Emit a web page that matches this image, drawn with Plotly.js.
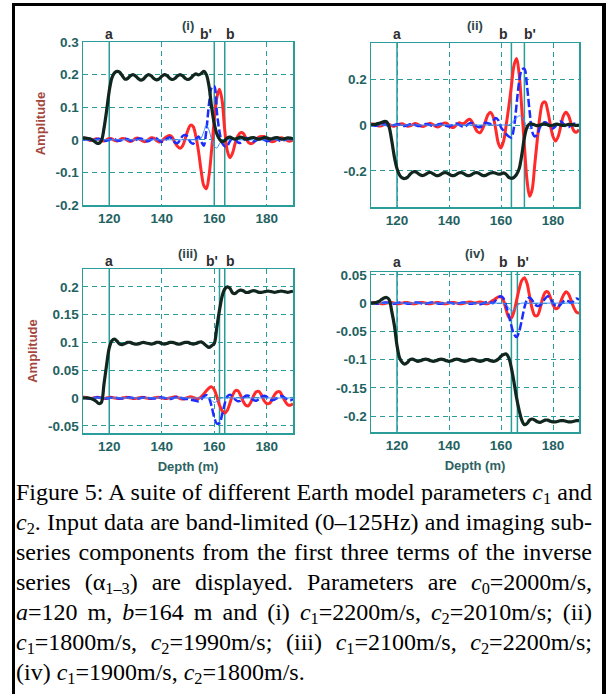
<!DOCTYPE html>
<html>
<head>
<meta charset="utf-8">
<script src="https://cdn.plot.ly/plotly-3.0.1.min.js"></script>
<style>
  html, body { margin: 0; padding: 0; background: #fff; }
  #wrap { position: relative; width: 608px; height: 694px; overflow: hidden; }
  #chart { position: absolute; left: 0; top: 0; width: 608px; height: 694px; }
  #frame { position: absolute; left: 12px; top: 3px; width: 594px; height: 760px;
           box-sizing: border-box; border-left: 3px solid #000; border-top: 3px solid #000;
           border-right: 4px solid #000; pointer-events: none; }
  #caption { position: absolute; left: 16px; top: 477px; width: 576px;
             font-family: "Liberation Serif", "Times New Roman", Times, serif; font-size: 24px;
             line-height: 30px; color: #000; }
  #caption .ln { white-space: nowrap; text-align: justify; text-align-last: justify; height: 30px; overflow: visible; }
  #caption .ln.last { text-align: left; text-align-last: left; }
  #caption sub { font-size: 0.68em; line-height: 0; vertical-align: baseline; position: relative; top: 0.22em; }
</style>
</head>
<body>
<div id="wrap">
  <div id="chart"></div>
  <div id="frame"></div>
  <div id="caption">
    <div class="ln">Figure 5: A suite of different Earth model parameters <i>c</i><sub>1</sub> and</div>
    <div class="ln"><i>c</i><sub>2</sub>. Input data are band-limited (0–125Hz) and imaging sub-</div>
    <div class="ln">series components from the first three terms of the inverse</div>
    <div class="ln">series (α<sub>1–3</sub>) are displayed. Parameters are <i>c</i><sub>0</sub>=2000m/s,</div>
    <div class="ln"><i>a</i>=120 m, <i>b</i>=164 m and (i) <i>c</i><sub>1</sub>=2200m/s, <i>c</i><sub>2</sub>=2010m/s; (ii)</div>
    <div class="ln"><i>c</i><sub>1</sub>=1800m/s, <i>c</i><sub>2</sub>=1990m/s; (iii) <i>c</i><sub>1</sub>=2100m/s, <i>c</i><sub>2</sub>=2200m/s;</div>
    <div class="ln last">(iv) <i>c</i><sub>1</sub>=1900m/s, <i>c</i><sub>2</sub>=1800m/s.</div>
  </div>
</div>
<script>
// ---------------- data ----------------
const depth = [110,111,112,113,114,115,116,117,118,119,
               120,121,122,123,124,125,126,127,128,129,
               130,131,132,133,134,135,136,137,138,139,
               140,141,142,143,144,145,146,147,148,149,
               150,151,152,153,154,155,156,157,158,159,
               160,161,162,163,164,165,166,167,168,169,
               170,171,172,173,174,175,176,177,178,179,
               180,181,182,183,184,185,186,187,188,189,
               190];

const panelLabels = ["(i)", "(ii)", "(iii)", "(iv)"];
const depthTicks = [120, 140, 160, 180];
const depthTickText = ["120", "140", "160", "180"];
const ampTicksI = [-0.2, -0.1, 0, 0.1, 0.2, 0.3];
const ampTextI = ["-0.2", "-0.1", "0", "0.1", "0.2", "0.3"];
const ampTicksII = [-0.2, 0, 0.2];
const ampTextII = ["-0.2", "0", "0.2"];
const ampTicksIII = [-0.05, 0, 0.05, 0.1, 0.15, 0.2];
const ampTextIII = ["-0.05", "0", "0.05", "0.1", "0.15", "0.2"];
const ampTicksIV = [-0.2, -0.15, -0.1, -0.05, 0, 0.05];
const ampTextIV = ["-0.2", "-0.15", "-0.1", "-0.05", "0", "0.05"];

const aDepth = [120, 120, 120, 120];
const bDepth = [164, 164, 164, 164];
const bPrimeDepth = [160, 169, 162, 166.3];

// Panel (i)
const blackI = [0.005,0.005,0.004,0.002,-0.003,-0.009,-0.011,-0.003,0.035,0.090,
  0.150,0.190,0.205,0.210,0.207,0.196,0.186,0.188,0.196,0.200,
  0.196,0.188,0.183,0.186,0.195,0.200,0.196,0.188,0.184,0.187,
  0.195,0.200,0.197,0.189,0.185,0.188,0.196,0.200,0.196,0.188,
  0.185,0.189,0.197,0.202,0.199,0.203,0.210,0.200,0.165,0.100,
  0.050,0.018,0.002,-0.006,-0.002,0.006,0.008,0.004,0.002,0.005,
  0.008,0.006,0.002,0.003,0.006,0.007,0.004,0.002,0.004,0.007,
  0.006,0.003,0.003,0.006,0.007,0.004,0.002,0.004,0.006,0.005,
  0.003];
const redI = [0.008,0.004,0.000,-0.002,0.000,0.003,0.002,-0.002,-0.004,0.000,
  0.004,0.003,-0.002,-0.004,0.000,0.004,0.003,-0.002,-0.005,-0.002,
  0.004,0.005,0.000,-0.005,-0.005,0.001,0.006,0.005,-0.002,-0.007,
  -0.004,0.004,0.010,0.013,0.008,-0.008,-0.020,-0.026,-0.018,0.005,
  0.030,0.045,0.040,0.010,-0.035,-0.095,-0.140,-0.150,-0.110,-0.030,
  0.060,0.130,0.155,0.120,0.030,-0.035,-0.055,-0.040,-0.010,0.012,
  0.022,0.020,0.006,-0.008,-0.012,-0.008,0.002,0.008,0.010,0.010,
  0.004,-0.003,-0.006,-0.004,0.002,0.006,0.006,0.002,-0.003,-0.004,
  -0.001];
const blueI = [0.000,0.002,0.001,-0.002,-0.002,0.001,0.003,0.001,-0.002,-0.003,
  0.000,0.003,0.002,-0.002,-0.003,0.000,0.003,0.002,-0.002,-0.004,
  -0.001,0.003,0.004,0.000,-0.004,-0.004,0.001,0.005,0.004,-0.002,
  -0.006,-0.004,0.004,0.008,0.003,-0.008,-0.010,0.000,0.012,0.015,
  0.008,-0.008,-0.012,0.002,0.010,-0.005,-0.018,0.030,0.110,0.160,
  0.165,0.085,0.025,-0.010,-0.020,-0.018,-0.004,0.006,0.002,-0.008,
  -0.009,-0.002,0.005,0.004,-0.002,-0.005,-0.002,0.003,0.004,0.000,
  -0.004,-0.003,0.002,0.004,0.001,-0.003,-0.003,0.000,0.003,0.002,
  -0.001];
const thinI = [0,0,0,0,0,0,0,0,0,0,
  0,0,0,0,0,0,0,0,0,0,
  0,0,0,0,0,0,0,0,0,0,
  0,0,0,0,0,0,0,0,0,0,
  0,0,0,0,0,0.005,0.025,0.045,0.030,0.000,
  -0.020,-0.025,-0.012,-0.003,0,0,0,0,0,0,
  0,0,0,0,0,0,0,0,0,0,
  0,0,0,0,0,0,0,0,0,0,
  0];

// Panel (ii)
const blackII = [0.000,0.002,0.004,0.007,0.011,0.015,0.014,-0.010,-0.070,-0.140,
  -0.190,-0.218,-0.230,-0.233,-0.228,-0.215,-0.205,-0.203,-0.210,-0.218,
  -0.220,-0.215,-0.208,-0.207,-0.213,-0.220,-0.220,-0.214,-0.208,-0.208,
  -0.214,-0.220,-0.220,-0.214,-0.208,-0.208,-0.214,-0.220,-0.220,-0.214,
  -0.208,-0.208,-0.214,-0.220,-0.220,-0.214,-0.209,-0.207,-0.210,-0.214,
  -0.213,-0.208,-0.215,-0.228,-0.232,-0.228,-0.215,-0.190,-0.130,-0.055,
  -0.010,0.005,0.004,0.000,-0.003,0.000,0.004,0.004,0.000,-0.003,
  -0.001,0.003,0.003,0.000,-0.002,0.000,0.003,0.002,0.000,-0.002,
  0.000];
const redII = [0.006,0.004,0.000,-0.004,-0.003,0.002,0.005,0.002,-0.003,-0.005,
  -0.001,0.004,0.005,0.000,-0.005,-0.004,0.002,0.006,0.003,-0.004,
  -0.007,-0.002,0.005,0.007,0.001,-0.007,-0.008,0.000,0.008,0.008,
  -0.002,-0.010,-0.009,0.002,0.010,0.005,0.008,0.020,0.025,0.012,
  -0.012,-0.030,-0.033,-0.015,0.015,0.045,0.055,0.035,-0.020,-0.080,
  -0.100,-0.070,0.000,0.080,0.170,0.260,0.290,0.220,0.070,-0.090,
  -0.240,-0.310,-0.280,-0.170,-0.060,0.040,0.095,0.100,0.060,0.000,
  -0.050,-0.070,-0.050,-0.005,0.040,0.055,0.040,0.005,-0.025,-0.032,
  -0.020];
const blueII = [0.000,-0.002,-0.003,0.000,0.003,0.003,0.000,-0.003,-0.003,0.000,
  0.003,0.002,-0.002,-0.004,-0.001,0.003,0.004,0.000,-0.004,-0.003,
  0.001,0.004,0.003,-0.002,-0.005,-0.002,0.003,0.005,0.002,-0.004,
  -0.006,-0.002,0.005,0.006,0.001,-0.006,-0.007,0.000,0.008,0.008,
  0.000,-0.008,-0.010,0.000,0.010,0.008,0.005,0.018,0.030,0.020,
  -0.010,-0.025,-0.040,-0.050,-0.055,-0.010,0.090,0.190,0.240,0.245,
  0.170,0.060,-0.030,-0.050,-0.040,-0.010,0.008,0.012,0.005,-0.010,
  -0.015,-0.005,0.010,0.015,0.005,-0.008,-0.010,0.000,0.006,0.003,
  -0.003];
const thinII = [0,0,0,0,0,0,0,0,0,0,
  0,0,0,0,0,0,0,0,0,0,
  0,0,0,0,0,0,0,0,0,0,
  0,0,0,0,0,0,0,0,0,0,
  0,0,0,0,0,0,0,0,0,0,
  0,0,0,0.000,0.008,0.020,0.032,0.040,0.036,0.015,
  -0.008,-0.015,-0.006,0,0,0,0,0,0,0,
  0,0,0,0,0,0,0,0,0,0,
  0];

// Panel (iii)
const blackIII = [0.000,0.000,0.000,-0.001,-0.003,-0.006,-0.010,-0.008,0.025,0.060,
  0.090,0.103,0.106,0.102,0.097,0.096,0.098,0.100,0.100,0.098,
  0.097,0.097,0.099,0.100,0.099,0.098,0.097,0.098,0.100,0.100,
  0.098,0.097,0.098,0.100,0.100,0.099,0.097,0.097,0.099,0.100,
  0.100,0.098,0.097,0.098,0.100,0.101,0.098,0.094,0.091,0.094,
  0.098,0.128,0.158,0.183,0.196,0.200,0.197,0.189,0.188,0.192,
  0.194,0.193,0.190,0.190,0.192,0.193,0.192,0.190,0.190,0.191,
  0.192,0.192,0.191,0.190,0.191,0.192,0.192,0.191,0.190,0.191,
  0.192];
const redIII = [0.002,0.001,0.000,-0.001,0.000,0.001,0.001,0.000,-0.001,0.000,
  0.001,0.001,0.000,-0.001,-0.001,0.000,0.001,0.001,0.000,-0.001,
  -0.001,0.000,0.001,0.001,0.000,-0.001,-0.001,0.000,0.001,0.001,
  0.000,-0.001,-0.001,0.000,0.001,0.002,0.001,-0.001,-0.002,-0.001,
  0.001,0.002,0.001,-0.001,-0.001,0.002,0.007,0.013,0.018,0.020,
  0.015,0.002,-0.013,-0.023,-0.027,-0.022,-0.009,0.005,0.013,0.013,
  0.005,-0.006,-0.013,-0.014,-0.007,0.004,0.011,0.012,0.005,-0.005,
  -0.010,-0.010,-0.003,0.006,0.011,0.011,0.003,-0.006,-0.012,-0.013,
  -0.010];
const blueIII = [0.000,0.000,-0.001,-0.001,0.000,0.001,0.001,0.000,-0.001,-0.001,
  0.000,0.001,0.001,0.000,-0.001,-0.001,0.000,0.001,0.001,0.000,
  -0.001,-0.001,0.000,0.001,0.001,0.000,-0.001,-0.001,0.000,0.001,
  0.001,0.000,-0.001,-0.002,-0.001,0.001,0.002,0.001,-0.001,-0.002,
  -0.002,-0.003,-0.004,-0.005,-0.006,-0.003,0.003,0.005,0.000,-0.015,
  -0.035,-0.046,-0.045,-0.030,-0.010,0.003,0.006,0.003,-0.003,-0.006,
  -0.005,0.000,0.004,0.004,0.000,-0.004,-0.005,-0.002,0.002,0.004,
  0.002,-0.002,-0.004,-0.003,0.000,0.003,0.003,0.000,-0.003,-0.004,
  -0.002];
const thinIII = [0,0,0,0,0,0,0,0,0,0,
  0,0,0,0,0,0,0,0,0,0,
  0,0,0,0,0,0,0,0,0,0,
  0,0,0,0,0,0,0,0,0,0,
  0,0,0,0,0,0,0,0,0.000,-0.004,
  -0.008,-0.006,-0.002,0.000,0,0,0,0,0,0,
  0,0,0,0,0,0,0,0,0,0,
  0,0,0,0,0,0,0,0,0,0,
  0];

// Panel (iv)
const blackIV = [0.000,0.000,0.001,0.003,0.006,0.009,0.010,0.006,-0.015,-0.040,
  -0.075,-0.097,-0.105,-0.108,-0.105,-0.100,-0.099,-0.101,-0.103,-0.102,
  -0.100,-0.099,-0.100,-0.102,-0.103,-0.102,-0.100,-0.099,-0.100,-0.102,
  -0.103,-0.102,-0.100,-0.099,-0.100,-0.102,-0.103,-0.102,-0.100,-0.099,
  -0.100,-0.102,-0.103,-0.102,-0.100,-0.100,-0.102,-0.103,-0.102,-0.099,
  -0.094,-0.091,-0.090,-0.097,-0.115,-0.140,-0.168,-0.190,-0.207,-0.215,
  -0.213,-0.207,-0.205,-0.207,-0.210,-0.211,-0.209,-0.207,-0.207,-0.209,
  -0.210,-0.210,-0.209,-0.208,-0.208,-0.209,-0.210,-0.210,-0.209,-0.208,
  -0.208];
const redIV = [0.000,0.001,0.001,0.000,-0.001,-0.001,0.000,0.001,0.001,0.000,
  -0.001,-0.001,0.000,0.001,0.001,0.000,-0.001,-0.001,0.000,0.001,
  0.001,0.000,-0.001,-0.001,0.000,0.001,0.001,0.000,-0.001,-0.001,
  0.000,0.001,0.001,0.000,-0.001,-0.001,0.000,0.001,0.002,0.001,
  0.000,0.001,0.002,0.001,-0.001,-0.001,0.002,0.005,0.008,0.011,
  0.011,0.004,-0.012,-0.025,-0.026,-0.015,0.005,0.025,0.040,0.045,
  0.035,0.012,-0.010,-0.022,-0.022,-0.010,0.008,0.019,0.020,0.010,
  -0.003,-0.010,-0.008,0.003,0.014,0.020,0.016,0.004,-0.008,-0.016,
  -0.018];
const blueIV = [0.000,0.000,-0.001,-0.001,0.000,0.001,0.001,0.000,-0.001,-0.001,
  0.000,0.001,0.001,0.000,-0.001,-0.001,0.000,0.001,0.001,0.000,
  -0.001,-0.001,0.000,0.001,0.001,0.000,-0.001,-0.001,0.000,0.001,
  0.001,0.000,-0.001,-0.001,0.000,0.001,0.001,0.000,-0.001,-0.001,
  0.000,-0.001,-0.002,-0.001,0.001,0.002,0.001,0.000,0.005,0.010,
  0.012,0.008,-0.005,-0.022,-0.040,-0.055,-0.060,-0.050,-0.030,-0.008,
  0.006,0.010,0.005,-0.002,-0.005,-0.004,0.002,0.008,0.012,0.008,
  0.000,-0.005,-0.006,-0.002,0.003,0.005,0.003,0.000,0.004,0.008,
  0.006];
const thinIV = [0,0,0,0,0,0,0,0,0,0,
  0,0,0,0,0,0,0,0,0,0,
  0,0,0,0,0,0,0,0,0,0,
  0,0,0,0,0,0,0,0,0,0,
  0,0,0,0,0,0,0,0,0,0,
  0,0,-0.003,-0.008,-0.014,-0.012,-0.006,-0.002,0,0,
  0,0,0,0,0,0,0,0,0,0,
  0,0,0,0,0,0,0,0,0,0,
  0];

// ---------------- styling / layout ----------------
const TEAL = "#2a9d9b";
const TICKCOL = "#1f6262";
const TITLECOL = "#a4473e";
const DEPTHCOL = "#2d6363";
const LABCOL = "#2e2e2e";
const BLACKC = "#10261f", REDC = "#ff2b2b", BLUEC = "#1c2cff", THINC = "#3d8dff";
const FONT = "Liberation Sans, Arial, sans-serif";
const W = 608, H = 694;

const panels = [
  {black: blackI,   red: redI,   blue: blueI,   thin: thinI,   ticks: ampTicksI,   text: ampTextI,
   px: [83, 293], py: [42, 205], range: [-0.2, 0.3], ampTitle: true, depthTitle: false, titleY: 26, labY: 34},
  {black: blackII,  red: redII,  blue: blueII,  thin: thinII,  ticks: ampTicksII,  text: ampTextII,
   px: [371, 579], py: [43, 207], range: [-0.357, 0.357], ampTitle: false, depthTitle: false, titleY: 26, labY: 34},
  {black: blackIII, red: redIII, blue: blueIII, thin: thinIII, ticks: ampTicksIII, text: ampTextIII,
   px: [83, 293], py: [269, 433], range: [-0.063, 0.232], ampTitle: true, depthTitle: true, titleY: 253, labY: 261},
  {black: blackIV,  red: redIV,  blue: blueIV,  thin: thinIV,  ticks: ampTicksIV,  text: ampTextIV,
   px: [371, 579], py: [272, 432], range: [-0.228, 0.055], ampTitle: false, depthTitle: true, titleY: 253, labY: 262}
];

const traces = [];
const layout = {
  width: W, height: H, autosize: false,
  margin: {l: 0, r: 0, t: 0, b: 0},
  paper_bgcolor: "#ffffff", plot_bgcolor: "#ffffff",
  showlegend: false,
  font: {family: FONT},
  annotations: [], shapes: []
};

panels.forEach((p, i) => {
  const n = i + 1;
  const xa = n === 1 ? "x" : "x" + n;
  const ya = n === 1 ? "y" : "y" + n;
  const xk = n === 1 ? "xaxis" : "xaxis" + n;
  const yk = n === 1 ? "yaxis" : "yaxis" + n;
  const common = {type: "scatter", mode: "lines", x: depth, xaxis: xa, yaxis: ya, hoverinfo: "skip"};
  traces.push(Object.assign({}, common, {y: p.red,  line: {color: REDC,  width: 3, shape: "spline", smoothing: 0.9}}));
  traces.push(Object.assign({}, common, {y: p.blue, line: {color: BLUEC, width: 2.5, shape: "spline", smoothing: 0.9, dash: "8px,3px"}}));
  traces.push(Object.assign({}, common, {y: p.thin, line: {color: THINC, width: 1, shape: "spline", smoothing: 0.9}}));
  traces.push(Object.assign({}, common, {y: p.black, line: {color: BLACKC, width: 3.2, shape: "spline", smoothing: 0.9}}));

  layout[xk] = {
    domain: [p.px[0] / W, p.px[1] / W], range: [110, 190], anchor: ya,
    tickvals: depthTicks, ticktext: depthTickText, ticks: "",
    tickfont: {size: 13.5, color: TICKCOL, weight: "bold", family: FONT},
    showgrid: true, gridcolor: TEAL, gridwidth: 1, griddash: "5px,4px",
    zeroline: false, showline: true, linecolor: TEAL, linewidth: 1.5, mirror: true,
    title: p.depthTitle ? {text: "Depth (m)", standoff: 9,
      font: {size: 13, color: DEPTHCOL, weight: "bold", family: FONT}} : {text: ""}
  };
  layout[yk] = {
    domain: [1 - p.py[1] / H, 1 - p.py[0] / H], range: p.range, anchor: xa,
    tickvals: p.ticks, ticktext: p.text, ticks: "",
    tickfont: {size: 13.5, color: TICKCOL, weight: "bold", family: FONT},
    showgrid: true, gridcolor: TEAL, gridwidth: 1, griddash: "5px,4px",
    zeroline: false, showline: true, linecolor: TEAL, linewidth: 1.5, mirror: true,
    title: p.ampTitle ? {text: "Amplitude", standoff: 7,
      font: {size: 13, color: TITLECOL, weight: "bold", family: FONT}} : {text: ""}
  };

  // marker lines a, b, b'
  [aDepth[i], bDepth[i], bPrimeDepth[i]].forEach(v => {
    layout.shapes.push({type: "line", xref: xa, yref: ya + " domain", x0: v, x1: v, y0: 0, y1: 1,
      line: {color: TEAL, width: 1.5}, layer: "below"});
  });

  // panel label
  layout.annotations.push({xref: xa, yref: "paper", x: 150, y: 1 - p.titleY / H,
    text: "<b>" + panelLabels[i] + "</b>", showarrow: false, xanchor: "center", yanchor: "middle",
    font: {size: 13, color: "#2c4646", family: FONT}});
  // a, b, b' labels
  const lo = Math.min(bDepth[i], bPrimeDepth[i]);
  const bLabels = [
    {v: aDepth[i], t: "a", s: 0},
    {v: bDepth[i], t: "b", s: bDepth[i] === lo ? -8 : 6},
    {v: bPrimeDepth[i], t: "b'", s: bPrimeDepth[i] === lo ? -8 : 6}
  ];
  bLabels.forEach(L => {
    layout.annotations.push({xref: xa, yref: "paper", x: L.v, y: 1 - p.labY / H, xshift: L.s,
      text: "<b>" + L.t + "</b>", showarrow: false, xanchor: "center", yanchor: "middle",
      font: {size: 14, color: LABCOL, family: FONT}});
  });
});

Plotly.newPlot("chart", traces, layout, {staticPlot: true, displayModeBar: false});
</script>
</body>
</html>
